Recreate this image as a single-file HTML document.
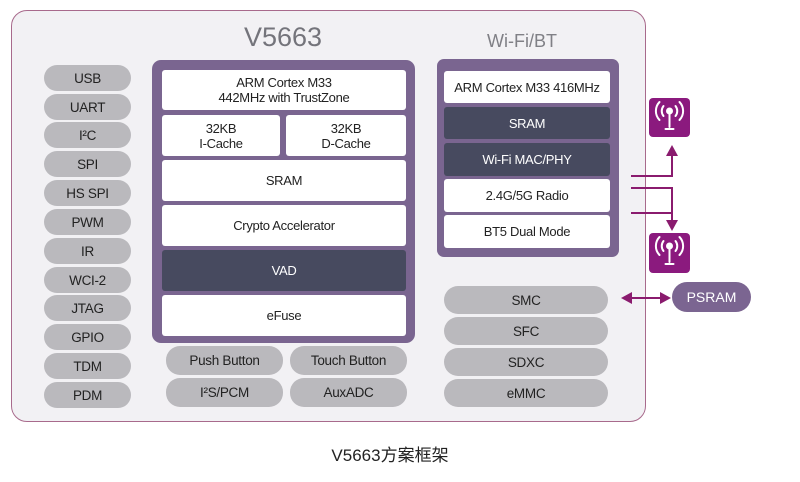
<!DOCTYPE html>
<html><head><meta charset="utf-8"><style>
html,body{margin:0;padding:0;background:#fff;}
body{width:800px;height:482px;position:relative;overflow:hidden;font-family:"Liberation Sans","Noto Sans CJK SC",sans-serif;}
.a{position:absolute;box-sizing:border-box;}
.pill{position:absolute;box-sizing:border-box;background:#bab9bd;border-radius:14px;color:#222;font-size:13.5px;display:flex;align-items:center;justify-content:center;letter-spacing:-0.3px;}
.wb{position:absolute;box-sizing:border-box;background:#fff;border-radius:3px;color:#222;font-size:13px;display:flex;align-items:center;justify-content:center;text-align:center;line-height:15px;letter-spacing:-0.3px;}
.db{background:#474a5f;color:#fff;}
</style></head><body>
<div class="a" style="left:11px;top:10px;width:635px;height:412px;background:#f2f1f4;border:1.5px solid #a86a8c;border-radius:16px;"></div>
<div class="a" style="left:183px;top:22px;width:200px;text-align:center;font-size:27px;color:#74747b;">V5663</div>
<div class="a" style="left:462px;top:31px;width:120px;text-align:center;font-size:18px;color:#808086;">Wi-Fi/BT</div>

<!-- left pills -->
<div class="pill" style="left:44px;top:65px;width:87px;height:26px;">USB</div>
<div class="pill" style="left:44px;top:94px;width:87px;height:26px;">UART</div>
<div class="pill" style="left:44px;top:122px;width:87px;height:26px;">I²C</div>
<div class="pill" style="left:44px;top:151px;width:87px;height:26px;">SPI</div>
<div class="pill" style="left:44px;top:180px;width:87px;height:26px;">HS SPI</div>
<div class="pill" style="left:44px;top:209px;width:87px;height:26px;">PWM</div>
<div class="pill" style="left:44px;top:238px;width:87px;height:26px;">IR</div>
<div class="pill" style="left:44px;top:267px;width:87px;height:26px;">WCI-2</div>
<div class="pill" style="left:44px;top:295px;width:87px;height:26px;">JTAG</div>
<div class="pill" style="left:44px;top:324px;width:87px;height:26px;">GPIO</div>
<div class="pill" style="left:44px;top:353px;width:87px;height:26px;">TDM</div>
<div class="pill" style="left:44px;top:382px;width:87px;height:26px;">PDM</div>

<!-- main purple -->
<div class="a" style="left:152px;top:60px;width:263px;height:283px;background:#7a6590;border-radius:9px;"></div>
<div class="wb" style="left:162px;top:70px;width:244px;height:40px;">ARM Cortex M33<br>442MHz with TrustZone</div>
<div class="wb" style="left:162px;top:115px;width:118px;height:41px;">32KB<br>I-Cache</div>
<div class="wb" style="left:286px;top:115px;width:120px;height:41px;">32KB<br>D-Cache</div>
<div class="wb" style="left:162px;top:160px;width:244px;height:41px;">SRAM</div>
<div class="wb" style="left:162px;top:205px;width:244px;height:41px;">Crypto Accelerator</div>
<div class="wb db" style="left:162px;top:250px;width:244px;height:41px;">VAD</div>
<div class="wb" style="left:162px;top:295px;width:244px;height:41px;">eFuse</div>

<div class="pill" style="left:166px;top:346px;width:117px;height:29px;">Push Button</div>
<div class="pill" style="left:290px;top:346px;width:117px;height:29px;">Touch Button</div>
<div class="pill" style="left:166px;top:378px;width:117px;height:29px;">I²S/PCM</div>
<div class="pill" style="left:290px;top:378px;width:117px;height:29px;">AuxADC</div>

<!-- wifi box -->
<div class="a" style="left:437px;top:59px;width:182px;height:198px;background:#7a6590;border-radius:7px;"></div>
<div class="wb" style="left:444px;top:71px;width:166px;height:32px;">ARM Cortex M33 416MHz</div>
<div class="wb db" style="left:444px;top:107px;width:166px;height:32px;">SRAM</div>
<div class="wb db" style="left:444px;top:143px;width:166px;height:33px;">Wi-Fi MAC/PHY</div>
<div class="wb" style="left:444px;top:179px;width:166px;height:33px;">2.4G/5G Radio</div>
<div class="wb" style="left:444px;top:215px;width:166px;height:33px;">BT5 Dual Mode</div>

<div class="pill" style="left:444px;top:286px;width:164px;height:28px;">SMC</div>
<div class="pill" style="left:444px;top:317px;width:164px;height:28px;">SFC</div>
<div class="pill" style="left:444px;top:348px;width:164px;height:28px;">SDXC</div>
<div class="pill" style="left:444px;top:379px;width:164px;height:28px;">eMMC</div>

<div class="a" style="left:672px;top:282px;width:79px;height:30px;background:#7b6591;border-radius:15px;color:#fff;font-size:14px;display:flex;align-items:center;justify-content:center;">PSRAM</div>

<svg class="a" style="left:0;top:0;" width="800" height="482" viewBox="0 0 800 482">
  <g stroke="#8a1b6e" stroke-width="2" fill="none">
    <polyline points="631,176 672,176 672,152"/>
    <polyline points="631,188 672,188 672,224"/>
    <line x1="631" y1="213" x2="672" y2="213"/>
    <line x1="630" y1="298" x2="664" y2="298"/>
  </g>
  <g fill="#8a1b6e">
    <polygon points="672,145 666,156 678,156"/>
    <polygon points="672,231 666,220 678,220"/>
    <polygon points="621,298 632,292 632,304"/>
    <polygon points="671,298 660,292 660,304"/>
  </g>
  <g>
    <rect x="649" y="98" width="41" height="39" rx="4" fill="#8b1a7e"/>
    <rect x="649" y="233" width="41" height="40" rx="4" fill="#8b1a7e"/>
  </g>
  <g stroke="#fff" stroke-width="2" fill="none" stroke-linecap="round">
    <g transform="translate(669.5,111)">
      <path d="M-6,-5 A8,8 0 0 0 -6,5"/><path d="M6,-5 A8,8 0 0 1 6,5"/>
      <path d="M-10,-9 A13,13 0 0 0 -10,9"/><path d="M10,-9 A13,13 0 0 1 10,9"/>
      <line x1="0" y1="2" x2="0" y2="16"/><line x1="-4" y1="18" x2="4" y2="18"/>
    </g>
    <g transform="translate(669.5,246)">
      <path d="M-6,-5 A8,8 0 0 0 -6,5"/><path d="M6,-5 A8,8 0 0 1 6,5"/>
      <path d="M-10,-9 A13,13 0 0 0 -10,9"/><path d="M10,-9 A13,13 0 0 1 10,9"/>
      <line x1="0" y1="2" x2="0" y2="16"/><line x1="-4" y1="18" x2="4" y2="18"/>
    </g>
  </g>
  <circle cx="669.5" cy="111" r="3.5" fill="#fff"/>
  <circle cx="669.5" cy="246" r="3.5" fill="#fff"/>
</svg>

<div class="a" style="left:300px;top:441px;width:180px;text-align:center;font-size:17px;color:#222;font-family:'Liberation Sans','Noto Sans CJK SC',sans-serif;">V5663方案框架</div>
</body></html>
